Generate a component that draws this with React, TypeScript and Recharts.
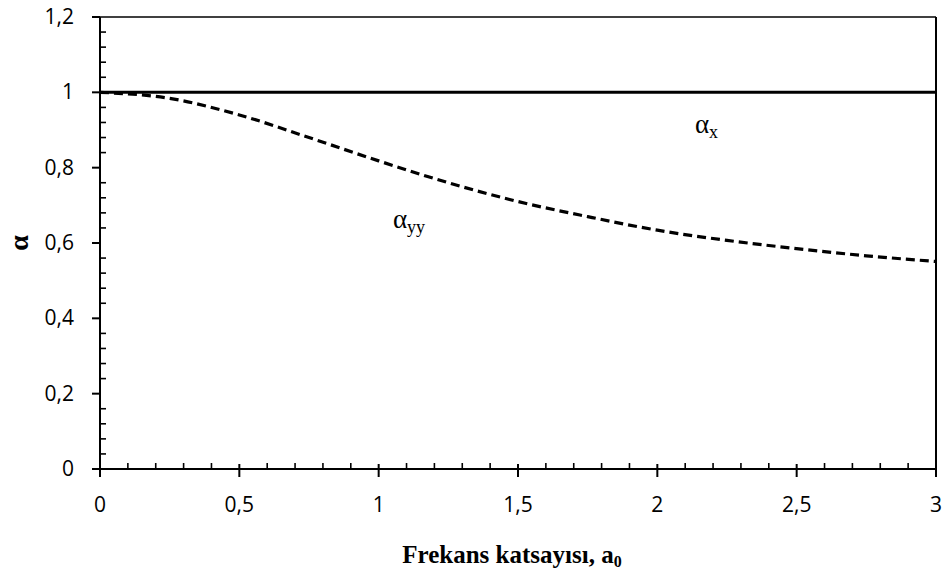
import { Line, LineChart, ReferenceDot, ReferenceLine, XAxis, YAxis } from "recharts";

const a0 = [0, 0.25, 0.5, 0.75, 1, 1.25, 1.5, 1.75, 2, 2.25, 2.5, 2.75, 3];
const alphaX = [1, 1, 1, 1, 1, 1, 1, 1, 1, 1, 1, 1, 1];
const alphaYY = [1, 0.984, 0.94, 0.88, 0.818, 0.76, 0.71, 0.67, 0.634, 0.607, 0.585, 0.566, 0.551];

const xTicks = [0, 0.5, 1, 1.5, 2, 2.5, 3];
const xMinor = [0.1, 0.2, 0.3, 0.4, 0.6, 0.7, 0.8, 0.9, 1.1, 1.2, 1.3, 1.4, 1.6, 1.7, 1.8, 1.9,
  2.1, 2.2, 2.3, 2.4, 2.6, 2.7, 2.8, 2.9];
const yTicks = [0, 0.2, 0.4, 0.6, 0.8, 1, 1.2];
const yMinor = [0.04, 0.08, 0.12, 0.16, 0.24, 0.28, 0.32, 0.36, 0.44, 0.48, 0.52, 0.56, 0.64, 0.68,
  0.72, 0.76, 0.84, 0.88, 0.92, 0.96, 1.04, 1.08, 1.12, 1.16];

const data = a0.map((x, i) => ({ a0: x, ax: alphaX[i], ayy: alphaYY[i] }));

const comma = (v: number) => String(v).replace(".", ",");
const sans = "'Open Sans', sans-serif";
const serif = "'Liberation Serif', 'Times New Roman', serif";

// alpha with subscript, anchored at the left of the alpha glyph
function AlphaLabel({ cx, cy, sub }: { cx?: number; cy?: number; sub: string }) {
  return (
    <text x={cx} y={cy} fontFamily={serif} fontSize={27} fill="#000" textAnchor="start">
      α<tspan fontSize={18} dy={5}>{sub}</tspan>
    </text>
  );
}

function YTick({ y, payload }: any) {
  return (
    <text x={74} y={y} dy={7} textAnchor="end" fontFamily={sans} fontSize={21} fill="#000">
      {comma(payload.value)}
    </text>
  );
}

function XTick({ x, payload }: any) {
  return (
    <text x={x} y={512} textAnchor="middle" fontFamily={sans} fontSize={21} fill="#000">
      {comma(payload.value)}
    </text>
  );
}

// tick marks drawn at the ends of vertical / horizontal reference lines
const MinorX = (p: any) => {
  const y = Math.max(p.y1, p.y2);
  return <line x1={p.x1} x2={p.x1} y1={y - 6} y2={y} stroke="#000" strokeWidth={1.6} />;
};
const MajorX = (p: any) => {
  const y = Math.max(p.y1, p.y2);
  return <line x1={p.x1} x2={p.x1} y1={y - 5} y2={y + 8} stroke="#000" strokeWidth={2} />;
};
const MinorY = (p: any) => {
  const x = Math.min(p.x1, p.x2);
  return <line x1={x} x2={x + 6} y1={p.y1} y2={p.y1} stroke="#000" strokeWidth={1.6} />;
};
const MajorY = (p: any) => {
  const x = Math.min(p.x1, p.x2);
  return <line x1={x - 8} x2={x} y1={p.y1} y2={p.y1} stroke="#000" strokeWidth={2} />;
};

export default function App() {
  return (
    <div style={{ position: "absolute", left: 0, top: 0, width: 942, height: 576, background: "#fff" }}>
      <LineChart width={942} height={576} data={data} margin={{ top: 17, right: 6, left: 0, bottom: 0 }}>
        <XAxis dataKey="a0" type="number" domain={[0, 3]} ticks={xTicks} height={107} tick={<XTick />}
          tickLine={false} axisLine={{ stroke: "#000", strokeWidth: 2 }} allowDataOverflow />
        <YAxis type="number" domain={[0, 1.2]} ticks={yTicks} width={100} tick={<YTick />}
          tickLine={false} axisLine={{ stroke: "#000", strokeWidth: 2 }} allowDataOverflow />
        <ReferenceLine y={1.2} stroke="#000" strokeWidth={1.3} />
        <ReferenceLine x={3} stroke="#000" strokeWidth={2} />
        {xMinor.map((v) => <ReferenceLine key={"mx" + v} x={v} shape={MinorX} />)}
        {xTicks.map((v) => <ReferenceLine key={"Mx" + v} x={v} shape={MajorX} />)}
        {yMinor.map((v) => <ReferenceLine key={"my" + v} y={v} shape={MinorY} />)}
        {yTicks.map((v) => <ReferenceLine key={"My" + v} y={v} shape={MajorY} />)}
        <Line dataKey="ax" type="monotone" stroke="#000" strokeWidth={3} dot={false} isAnimationActive={false} />
        <Line dataKey="ayy" type="monotone" stroke="#000" strokeWidth={3.2} strokeDasharray="9 5"
          dot={false} isAnimationActive={false} />
        <ReferenceDot x={2.135} y={0.892} r={0} shape={(p: any) => <AlphaLabel cx={p.cx} cy={p.cy} sub="x" />} />
        <ReferenceDot x={1.051} y={0.64} r={0} shape={(p: any) => <AlphaLabel cx={p.cx} cy={p.cy} sub="yy" />} />
      </LineChart>
      <div style={{ position: "absolute", left: 19, top: 243, transform: "translate(-50%, -50%) rotate(-90deg)",
        fontFamily: serif, fontWeight: "bold", fontSize: 28, lineHeight: "28px" }}>
        α
      </div>
      <div style={{ position: "absolute", left: 94, top: 542, width: 836, textAlign: "center",
        fontFamily: serif, fontWeight: "bold", fontSize: 25, lineHeight: "25px", whiteSpace: "nowrap" }}>
        Frekans katsayısı, a<sub style={{ fontSize: 16, lineHeight: 0, verticalAlign: "-4px" }}>0</sub>
      </div>
    </div>
  );
}
